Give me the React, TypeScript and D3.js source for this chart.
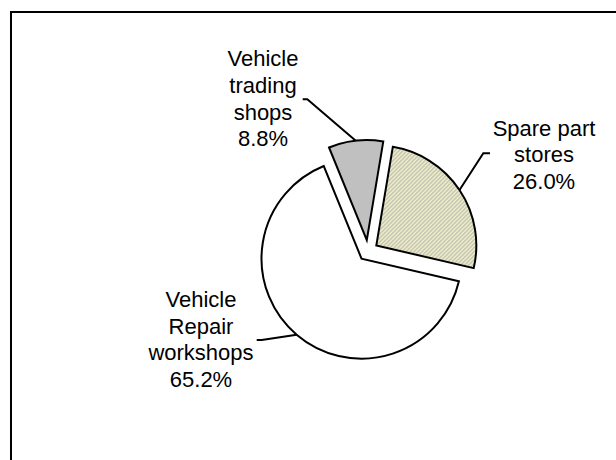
import React from "react";
import * as d3 from "d3";

// ---- data ----
const categories = ["Spare part stores", "Vehicle Repair workshops", "Vehicle trading shops"];
const labelLines = [["Spare part", "stores"], ["Vehicle", "Repair", "workshops"], ["Vehicle", "trading", "shops"]];
const values = [26.0, 65.2, 8.8];

// ---- layout / style ----
const W = 616;
const H = 460;
const CX = 368;
const CY = 251;
const R = 100;
const EXPLODE = [10, 10, 11];
const START_DEG = 9.5;
const FONT = "'Liberation Sans', Arial, Helvetica, sans-serif";
const FONT_SIZE = 22;
const LINE_H = 26.8;
const fills = ["url(#hatch)", "#ffffff", "#c0c0c0"];
// label layout: text centre x, first baseline, elbow x (near text), elbow x (toward pie), elbow y
const labelLayout = [
  { cx: 544, y0: 135.5, ex0: 490, ex1: 483.3, ey: 153.3 },
  { cx: 201, y0: 306.7, ex0: 256.7, ex1: 261.7, ey: 340 },
  { cx: 263, y0: 66, ex0: 302.7, ex1: 307.3, ey: 99.3 },
];

export default function App() {
  const toRad = (d: number) => (d * Math.PI) / 180;
  const pie = d3
    .pie<number>()
    .sort(null)
    .value((d) => d)
    .startAngle(toRad(START_DEG))
    .endAngle(toRad(START_DEG + 360));
  const arcs = pie(values);
  const arcGen = d3.arc<d3.PieArcDatum<number>>().innerRadius(0).outerRadius(R);

  return (
    <svg
      width={W}
      height={H}
      style={{ position: "absolute", left: 0, top: 0, background: "#fff" }}
      xmlns="http://www.w3.org/2000/svg"
    >
      <defs>
        <pattern id="hatch" patternUnits="userSpaceOnUse" width={4} height={4}>
          <rect width={4} height={4} fill="#ffffcc" />
          <path d="M-1,1 l2,-2 M0,4 l4,-4 M3,5 l2,-2" stroke="#b0b0b0" strokeWidth={1.3} />
        </pattern>
      </defs>
      <rect x={0} y={0} width={W} height={H} fill="#fff" />
      <rect x={11} y={12} width={W + 20} height={H + 20} fill="none" stroke="#000" strokeWidth={2} />
      {arcs.map((a, i) => {
        const mid = (a.startAngle + a.endAngle) / 2;
        const ox = CX + EXPLODE[i] * Math.sin(mid);
        const oy = CY - EXPLODE[i] * Math.cos(mid);
        const px = ox + R * Math.sin(mid);
        const py = oy - R * Math.cos(mid);
        const L = labelLayout[i];
        const lines = [...labelLines[i], values[i].toFixed(1) + "%"];
        return (
          <g key={categories[i]}>
            <path
              d={arcGen(a) || ""}
              transform={`translate(${ox},${oy})`}
              fill={fills[i]}
              stroke="#000"
              strokeWidth={2}
              strokeLinejoin="miter"
            />
            <polyline
              points={`${L.ex0},${L.ey} ${L.ex1},${L.ey} ${px},${py}`}
              fill="none"
              stroke="#000"
              strokeWidth={2}
            />
            <text
              x={L.cx}
              y={L.y0}
              textAnchor="middle"
              fontFamily={FONT}
              fontSize={FONT_SIZE}
              fill="#000"
            >
              {lines.map((t, j) => (
                <tspan key={j} x={L.cx} y={L.y0 + j * LINE_H}>
                  {t}
                </tspan>
              ))}
            </text>
          </g>
        );
      })}
    </svg>
  );
}
